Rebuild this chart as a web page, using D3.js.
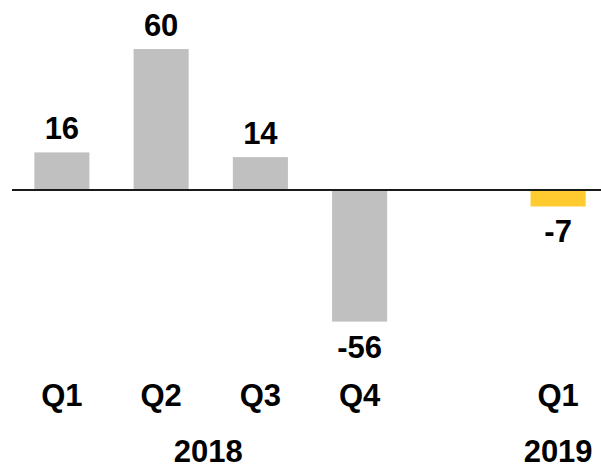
<!DOCTYPE html>
<html><head><meta charset="utf-8">
<script src="https://cdn.jsdelivr.net/npm/d3@7"></script>
<style>html,body{margin:0;padding:0;background:#fff;}svg{display:block;}</style>
</head><body>
<script>
const slots = ["2018 Q1","2018 Q2","2018 Q3","2018 Q4","gap","2019 Q1"];
const keys = ["2018 Q1","2018 Q2","2018 Q3","2018 Q4","2019 Q1"];
const quarters = ["Q1","Q2","Q3","Q4","Q1"];
const values = [16, 60, 14, -56, -7];
const colors = ["#c0c0c0","#c0c0c0","#c0c0c0","#c0c0c0","#ffcb2f"];
const yearLabels = ["2018","2019"];
const yearGroups = [["2018 Q1","2018 Q4"],["2019 Q1","2019 Q1"]];

const W = 601, H = 469;
const svg = d3.select("body").append("svg").attr("width", W).attr("height", H);
const font = "'Liberation Sans', Arial, sans-serif";
const fs = 31;

const x = d3.scaleBand().domain(slots).range([12, 608]).paddingInner(0.445).paddingOuter(0.225);
const y = d3.scaleLinear().domain([-56, 60]).range([321.6, 49]);

const data = keys.map((k,i)=>({k, q:quarters[i], v:values[i], c:colors[i]}));

svg.selectAll("rect.bar").data(data).join("rect")
  .attr("class","bar")
  .attr("x", d=>x(d.k))
  .attr("width", x.bandwidth())
  .attr("y", d=>y(Math.max(0,d.v)))
  .attr("height", d=>Math.abs(y(d.v)-y(0)))
  .attr("fill", d=>d.c);

svg.append("line")
  .attr("x1", 12).attr("x2", W)
  .attr("y1", y(0)).attr("y2", y(0))
  .attr("stroke", "#1a1a1a").attr("stroke-width", 1.8);

svg.selectAll("text.val").data(data).join("text")
  .attr("class","val")
  .attr("x", d=>x(d.k)+x.bandwidth()/2)
  .attr("y", d=> d.v>=0 ? y(d.v)-13 : y(d.v)+36)
  .attr("text-anchor","middle")
  .attr("font-family", font).attr("font-weight","bold").attr("font-size", fs)
  .attr("fill","#000")
  .text(d=>d.v);

svg.selectAll("text.q").data(data).join("text")
  .attr("class","q")
  .attr("x", d=>x(d.k)+x.bandwidth()/2)
  .attr("y", 406)
  .attr("text-anchor","middle")
  .attr("font-family", font).attr("font-weight","bold").attr("font-size", fs)
  .attr("fill","#000")
  .text(d=>d.q);

svg.selectAll("text.yr").data(yearLabels).join("text")
  .attr("class","yr")
  .attr("x", (d,i)=> (x(yearGroups[i][0]) + x(yearGroups[i][1]) + x.bandwidth())/2 - (i===0 ? 2.5 : 0))
  .attr("y", 462)
  .attr("text-anchor","middle")
  .attr("font-family", font).attr("font-weight","bold").attr("font-size", fs)
  .attr("fill","#000")
  .text(d=>d);
</script>
</body></html>
